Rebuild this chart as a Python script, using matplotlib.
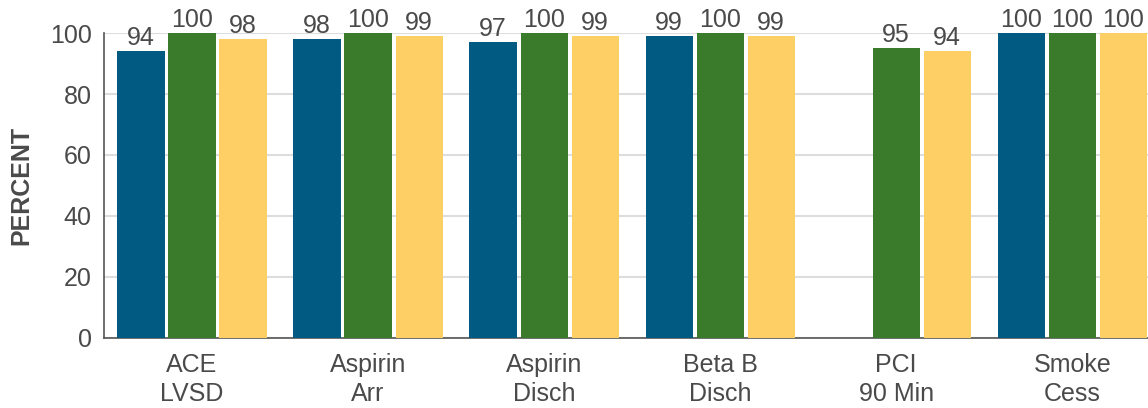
import numpy as np
import matplotlib
matplotlib.use("Agg")
import matplotlib.pyplot as plt

plt.rcParams['font.family'] = ['Liberation Sans', 'DejaVu Sans']

categories = ['ACE\nLVSD', 'Aspirin\nArr', 'Aspirin\nDisch', 'Beta B\nDisch', 'PCI\n90 Min', 'Smoke\nCess']
series_a = [94, 98, 97, 99, np.nan, 100]
series_b = [100, 100, 100, 100, 95, 100]
series_c = [98, 99, 99, 99, 94, 100]
colors = ['#005A82', '#3A7A2B', '#FDCF64']

fig = plt.figure(figsize=(11.48, 4.08), dpi=100)
ax = fig.add_axes([0.0906, 0.1716, 0.9094, 0.7475])

x = np.arange(len(categories))
w = 0.268
step = 0.29
text_col = '#4a4a4a'
for i, (vals, c) in enumerate(zip([series_a, series_b, series_c], colors)):
    pos = x + (i - 1) * step
    ax.bar(pos, vals, width=w, color=c, zorder=3)
    for p, v in zip(pos, vals):
        if not np.isnan(v):
            ax.text(p, v + 0.3, f"{v:.0f}", ha='center', va='bottom',
                    fontsize=18, color=text_col, zorder=4)

ax.set_xlim(-0.5, 5.43)
ax.set_ylim(0, 100)
ax.set_yticks([0, 20, 40, 60, 80, 100])
ax.set_xticks(x)
ax.set_xticklabels(categories)
ax.tick_params(axis='both', length=0, labelsize=18, colors=text_col)
ax.tick_params(axis='x', pad=11)
ax.tick_params(axis='y', pad=9)
ax.yaxis.grid(True, color='#dddddd', linewidth=1.5, zorder=0)
ax.set_axisbelow(True)
for s in ['top', 'right']:
    ax.spines[s].set_visible(False)
ax.spines['left'].set_color('#555555')
ax.spines['bottom'].set_color('#555555')
ax.spines['left'].set_linewidth(1.2)
ax.spines['bottom'].set_linewidth(1.2)
ax.set_ylabel('PERCENT', fontsize=18, fontweight='bold', color=text_col, labelpad=12)
for lbl in ax.get_xticklabels():
    lbl.set_linespacing(1.25)

fig.savefig('out.png', dpi=100)
